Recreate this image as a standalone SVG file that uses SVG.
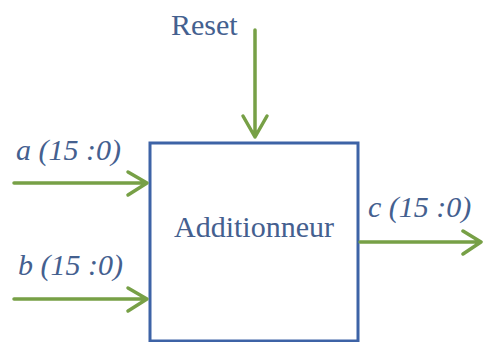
<svg xmlns="http://www.w3.org/2000/svg" width="483" height="342" viewBox="0 0 483 342">
<style>
.t{font-family:"Liberation Serif","Times New Roman",serif;font-size:30px;fill:#44608f}
.i{font-style:italic}
.w{stroke:#77a046;stroke-width:3.5;fill:none;stroke-linecap:round;stroke-linejoin:round}
</style>
<rect width="483" height="342" fill="#fff"/>
<g id="adder">
<rect x="150" y="143" width="208" height="198" fill="#fff" stroke="#3d63a6" stroke-width="3"/>
<text class="t" x="254" y="237" text-anchor="middle">Additionneur</text>
</g>
<g id="reset"><text class="t" x="171" y="35">Reset</text></g>
<g id="a"><text class="t i" x="16" y="160">a (15 :0)</text></g>
<g id="b"><text class="t i" x="18" y="275">b (15 :0)</text></g>
<g id="c"><text class="t i" x="368" y="217">c (15 :0)</text></g>
<g id="connectors">
<path class="w" d="M255 30V137M243 116L255 137L267 116"/>
<path class="w" d="M14 183H147M128 172L147 183L128 195"/>
<path class="w" d="M14 299H147M128 288L147 299L128 311"/>
<path class="w" d="M360 242H481M463 231L481 242L463 254"/>
</g>
</svg>
